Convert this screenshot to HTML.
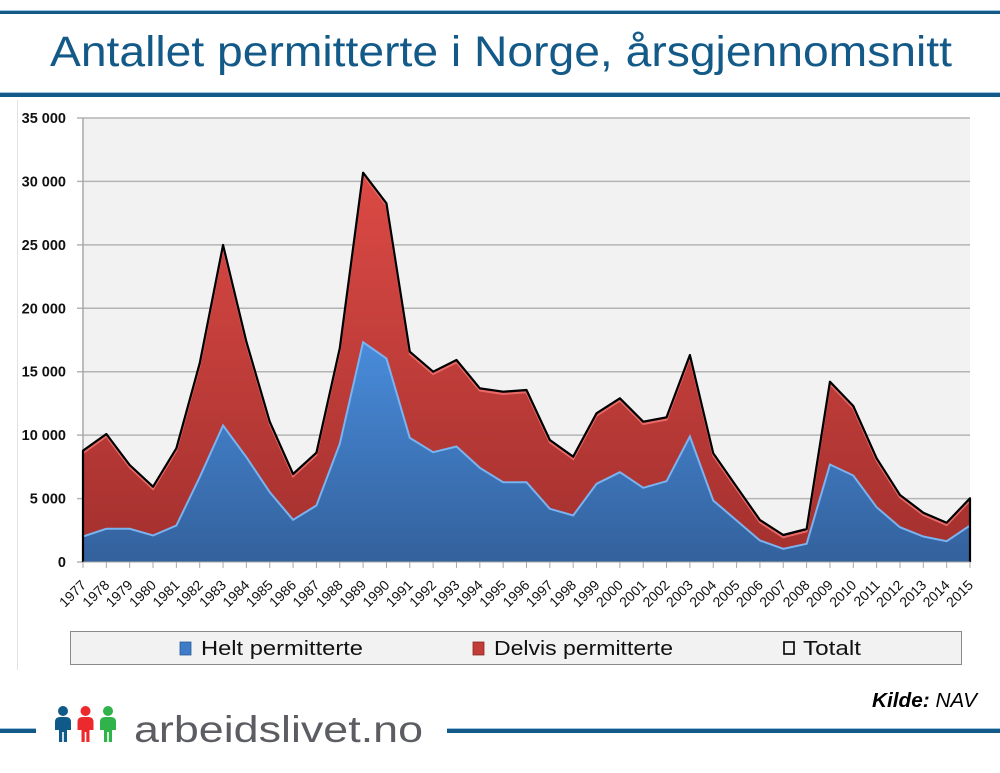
<!DOCTYPE html>
<html><head><meta charset="utf-8"><style>
html,body{margin:0;padding:0;background:#fff;}
svg{display:block;}
</style></head><body>
<svg width="1000" height="773" viewBox="0 0 1000 773" xmlns="http://www.w3.org/2000/svg">
<defs>
<linearGradient id="gb" gradientUnits="userSpaceOnUse" x1="0" y1="330" x2="0" y2="562">
<stop offset="0" stop-color="#4a8ede"/><stop offset="1" stop-color="#33619c"/>
</linearGradient>
<linearGradient id="gr" gradientUnits="userSpaceOnUse" x1="0" y1="170" x2="0" y2="562">
<stop offset="0" stop-color="#dc4a45"/><stop offset="1" stop-color="#a3302e"/>
</linearGradient>
</defs>
<!-- header lines -->
<rect x="0" y="10" width="1000" height="1" fill="#9fc4de"/>
<rect x="0" y="11" width="1000" height="3" fill="#135a89"/>
<rect x="0" y="92" width="1000" height="1" fill="#9fc4de"/>
<rect x="0" y="93" width="1000" height="4" fill="#135a89"/>
<text x="50" y="66" font-family="Liberation Sans, sans-serif" font-size="43" fill="#135a89" textLength="902" lengthAdjust="spacingAndGlyphs">Antallet permitterte i Norge, årsgjennomsnitt</text>
<!-- faint left line -->
<rect x="17" y="100" width="1" height="570" fill="#e2e2e2"/>
<!-- plot bg -->
<rect x="83" y="118" width="887" height="444" fill="#f2f2f2"/>
<g stroke="#b4b4b4" stroke-width="1.5">
<line x1="77" y1="118" x2="970" y2="118"/>
<line x1="77" y1="181.4" x2="970" y2="181.4"/>
<line x1="77" y1="244.9" x2="970" y2="244.9"/>
<line x1="77" y1="308.3" x2="970" y2="308.3"/>
<line x1="77" y1="371.7" x2="970" y2="371.7"/>
<line x1="77" y1="435.1" x2="970" y2="435.1"/>
<line x1="77" y1="498.6" x2="970" y2="498.6"/>
<line x1="77" y1="562" x2="83" y2="562"/>
</g>
<line x1="83" y1="118" x2="83" y2="562" stroke="#a8a8a8" stroke-width="1.5"/>
<!-- y labels -->
<g font-family="Liberation Sans, sans-serif" font-size="14.5" font-weight="bold" fill="#111" text-anchor="end">
<text x="66" y="123">35 000</text>
<text x="66" y="186.4">30 000</text>
<text x="66" y="249.9">25 000</text>
<text x="66" y="313.3">20 000</text>
<text x="66" y="376.7">15 000</text>
<text x="66" y="440.1">10 000</text>
<text x="66" y="503.6">5 000</text>
<text x="66" y="567">0</text>
</g>
<!-- red area (total) -->
<polygon fill="url(#gr)" points="83,562 83,450.7 106.34,434 129.68,465 153.03,486.7 176.37,448.3 199.71,363.3 223.05,245 246.39,341.7 269.74,421.7 293.08,474 316.42,452.7 339.76,348.3 363.1,172.7 386.45,203.3 409.79,351.7 433.13,371.7 456.47,360 479.82,388.3 503.16,391.7 526.5,390 549.84,440 573.18,456.7 596.53,413.3 619.87,398.3 643.21,421.7 666.55,417.3 689.89,355 713.24,453.3 736.58,486.7 759.92,520 783.26,535 806.61,529 829.95,381.7 853.29,406 876.63,458.3 899.97,495 923.32,512.7 946.66,522.7 970,498.3 970,562"/>
<polyline fill="none" stroke="#e86a66" stroke-width="2" points="83,453 106.34,436.3 129.68,467.3 153.03,489 176.37,450.6 199.71,365.6 223.05,247.3 246.39,344 269.74,424 293.08,476.3 316.42,455 339.76,350.6 363.1,175 386.45,205.6 409.79,354 433.13,374 456.47,362.3 479.82,390.6 503.16,394 526.5,392.3 549.84,442.3 573.18,459 596.53,415.6 619.87,400.6 643.21,424 666.55,419.6 689.89,357.3 713.24,455.6 736.58,489 759.92,522.3 783.26,537.3 806.61,531.3 829.95,384 853.29,408.3 876.63,460.6 899.97,497.3 923.32,515 946.66,525 970,500.6"/>
<!-- blue area -->
<polygon fill="url(#gb)" points="83,562 83,536 106.34,528.3 129.68,528.3 153.03,535 176.37,525 199.71,476.7 223.05,425 246.39,456.7 269.74,491.7 293.08,519.3 316.42,505 339.76,443.3 363.1,341.7 386.45,358 409.79,437.3 433.13,451.7 456.47,446 479.82,467.3 503.16,481.7 526.5,481.7 549.84,508.3 573.18,515 596.53,483.3 619.87,471.7 643.21,487.3 666.55,480.7 689.89,436 713.24,500 736.58,520 759.92,540 783.26,548.3 806.61,543.3 829.95,464 853.29,475 876.63,506.7 899.97,526.7 923.32,536 946.66,540.7 970,525 970,562"/>
<polyline fill="none" stroke="#79b3f0" stroke-width="2" points="83,536.5 106.34,528.8 129.68,528.8 153.03,535.5 176.37,525.5 199.71,477.2 223.05,425.5 246.39,457.2 269.74,492.2 293.08,519.8 316.42,505.5 339.76,443.8 363.1,342.2 386.45,358.5 409.79,437.8 433.13,452.2 456.47,446.5 479.82,467.8 503.16,482.2 526.5,482.2 549.84,508.8 573.18,515.5 596.53,483.8 619.87,472.2 643.21,487.8 666.55,481.2 689.89,436.5 713.24,500.5 736.58,520.5 759.92,540.5 783.26,548.8 806.61,543.8 829.95,464.5 853.29,475.5 876.63,507.2 899.97,527.2 923.32,536.5 946.66,541.2 970,525.5"/>
<!-- total line -->
<polyline fill="none" stroke="#000" stroke-width="2.2" stroke-linejoin="round" points="83,562 83,450.7 106.34,434 129.68,465 153.03,486.7 176.37,448.3 199.71,363.3 223.05,245 246.39,341.7 269.74,421.7 293.08,474 316.42,452.7 339.76,348.3 363.1,172.7 386.45,203.3 409.79,351.7 433.13,371.7 456.47,360 479.82,388.3 503.16,391.7 526.5,390 549.84,440 573.18,456.7 596.53,413.3 619.87,398.3 643.21,421.7 666.55,417.3 689.89,355 713.24,453.3 736.58,486.7 759.92,520 783.26,535 806.61,529 829.95,381.7 853.29,406 876.63,458.3 899.97,495 923.32,512.7 946.66,522.7 970,498.3 970,562"/>
<!-- x axis -->
<line x1="83" y1="562" x2="970" y2="562" stroke="#a8a8a8" stroke-width="1"/>
<g stroke="#a8a8a8" stroke-width="1">
<line x1="83" y1="562" x2="83" y2="568"/><line x1="106.34" y1="562" x2="106.34" y2="568"/><line x1="129.68" y1="562" x2="129.68" y2="568"/><line x1="153.03" y1="562" x2="153.03" y2="568"/><line x1="176.37" y1="562" x2="176.37" y2="568"/><line x1="199.71" y1="562" x2="199.71" y2="568"/><line x1="223.05" y1="562" x2="223.05" y2="568"/><line x1="246.39" y1="562" x2="246.39" y2="568"/><line x1="269.74" y1="562" x2="269.74" y2="568"/><line x1="293.08" y1="562" x2="293.08" y2="568"/><line x1="316.42" y1="562" x2="316.42" y2="568"/><line x1="339.76" y1="562" x2="339.76" y2="568"/><line x1="363.1" y1="562" x2="363.1" y2="568"/><line x1="386.45" y1="562" x2="386.45" y2="568"/><line x1="409.79" y1="562" x2="409.79" y2="568"/><line x1="433.13" y1="562" x2="433.13" y2="568"/><line x1="456.47" y1="562" x2="456.47" y2="568"/><line x1="479.82" y1="562" x2="479.82" y2="568"/><line x1="503.16" y1="562" x2="503.16" y2="568"/><line x1="526.5" y1="562" x2="526.5" y2="568"/><line x1="549.84" y1="562" x2="549.84" y2="568"/><line x1="573.18" y1="562" x2="573.18" y2="568"/><line x1="596.53" y1="562" x2="596.53" y2="568"/><line x1="619.87" y1="562" x2="619.87" y2="568"/><line x1="643.21" y1="562" x2="643.21" y2="568"/><line x1="666.55" y1="562" x2="666.55" y2="568"/><line x1="689.89" y1="562" x2="689.89" y2="568"/><line x1="713.24" y1="562" x2="713.24" y2="568"/><line x1="736.58" y1="562" x2="736.58" y2="568"/><line x1="759.92" y1="562" x2="759.92" y2="568"/><line x1="783.26" y1="562" x2="783.26" y2="568"/><line x1="806.61" y1="562" x2="806.61" y2="568"/><line x1="829.95" y1="562" x2="829.95" y2="568"/><line x1="853.29" y1="562" x2="853.29" y2="568"/><line x1="876.63" y1="562" x2="876.63" y2="568"/><line x1="899.97" y1="562" x2="899.97" y2="568"/><line x1="923.32" y1="562" x2="923.32" y2="568"/><line x1="946.66" y1="562" x2="946.66" y2="568"/><line x1="970" y1="562" x2="970" y2="568"/>
</g>
<g font-family="Liberation Sans, sans-serif" font-size="14" fill="#111" text-anchor="end">
<text transform="translate(87,586) rotate(-45)">1977</text>
<text transform="translate(110.34,586) rotate(-45)">1978</text>
<text transform="translate(133.68,586) rotate(-45)">1979</text>
<text transform="translate(157.03,586) rotate(-45)">1980</text>
<text transform="translate(180.37,586) rotate(-45)">1981</text>
<text transform="translate(203.71,586) rotate(-45)">1982</text>
<text transform="translate(227.05,586) rotate(-45)">1983</text>
<text transform="translate(250.39,586) rotate(-45)">1984</text>
<text transform="translate(273.74,586) rotate(-45)">1985</text>
<text transform="translate(297.08,586) rotate(-45)">1986</text>
<text transform="translate(320.42,586) rotate(-45)">1987</text>
<text transform="translate(343.76,586) rotate(-45)">1988</text>
<text transform="translate(367.1,586) rotate(-45)">1989</text>
<text transform="translate(390.45,586) rotate(-45)">1990</text>
<text transform="translate(413.79,586) rotate(-45)">1991</text>
<text transform="translate(437.13,586) rotate(-45)">1992</text>
<text transform="translate(460.47,586) rotate(-45)">1993</text>
<text transform="translate(483.82,586) rotate(-45)">1994</text>
<text transform="translate(507.16,586) rotate(-45)">1995</text>
<text transform="translate(530.5,586) rotate(-45)">1996</text>
<text transform="translate(553.84,586) rotate(-45)">1997</text>
<text transform="translate(577.18,586) rotate(-45)">1998</text>
<text transform="translate(600.53,586) rotate(-45)">1999</text>
<text transform="translate(623.87,586) rotate(-45)">2000</text>
<text transform="translate(647.21,586) rotate(-45)">2001</text>
<text transform="translate(670.55,586) rotate(-45)">2002</text>
<text transform="translate(693.89,586) rotate(-45)">2003</text>
<text transform="translate(717.24,586) rotate(-45)">2004</text>
<text transform="translate(740.58,586) rotate(-45)">2005</text>
<text transform="translate(763.92,586) rotate(-45)">2006</text>
<text transform="translate(787.26,586) rotate(-45)">2007</text>
<text transform="translate(810.61,586) rotate(-45)">2008</text>
<text transform="translate(833.95,586) rotate(-45)">2009</text>
<text transform="translate(857.29,586) rotate(-45)">2010</text>
<text transform="translate(880.63,586) rotate(-45)">2011</text>
<text transform="translate(903.97,586) rotate(-45)">2012</text>
<text transform="translate(927.32,586) rotate(-45)">2013</text>
<text transform="translate(950.66,586) rotate(-45)">2014</text>
<text transform="translate(974,586) rotate(-45)">2015</text>
</g>
<!-- legend -->
<rect x="70.5" y="631.5" width="891" height="33" fill="#f2f2f2" stroke="#8a8a8a" stroke-width="1"/>
<rect x="180" y="642" width="11" height="13" fill="#3f7cc8" stroke="#2a5a96" stroke-width="0.8"/>
<text x="201" y="655" font-family="Liberation Sans, sans-serif" font-size="20" fill="#111" textLength="162" lengthAdjust="spacingAndGlyphs">Helt permitterte</text>
<rect x="473" y="642" width="11" height="13" fill="#c23c38" stroke="#8c2826" stroke-width="0.8"/>
<text x="494" y="655" font-family="Liberation Sans, sans-serif" font-size="20" fill="#111" textLength="179" lengthAdjust="spacingAndGlyphs">Delvis permitterte</text>
<rect x="784" y="642" width="10" height="12" fill="none" stroke="#000" stroke-width="1.6"/>
<text x="803" y="655" font-family="Liberation Sans, sans-serif" font-size="20" fill="#111" textLength="58" lengthAdjust="spacingAndGlyphs">Totalt</text>
<!-- source -->
<text x="872" y="707" font-family="Liberation Sans, sans-serif" font-size="20" fill="#000" textLength="105" lengthAdjust="spacingAndGlyphs"><tspan font-weight="bold" font-style="italic">Kilde:</tspan><tspan font-style="italic"> NAV</tspan></text>
<!-- footer line -->
<rect x="0" y="728" width="36" height="1" fill="#9fc4de"/>
<rect x="0" y="729" width="36" height="4" fill="#135a89"/>
<rect x="447" y="728" width="553" height="1" fill="#9fc4de"/>
<rect x="447" y="729" width="553" height="4" fill="#135a89"/>
<!-- logo people -->
<g>
<circle cx="63" cy="711" r="5" fill="#0f5a88"/>
<path d="M55,722 Q55,717 60,717 L66,717 Q71,717 71,722 L71,730 L67,730 L67,742 L63.8,742 L63.8,732 L62.2,732 L62.2,742 L59,742 L59,730 L55,730 Z" fill="#0f5a88"/>
<circle cx="85.5" cy="711" r="5" fill="#ec2a2e"/>
<path d="M77.5,722 Q77.5,717 82.5,717 L88.5,717 Q93.5,717 93.5,722 L93.5,730 L89.5,730 L89.5,742 L86.3,742 L86.3,732 L84.7,732 L84.7,742 L81.5,742 L81.5,730 L77.5,730 Z" fill="#ec2a2e"/>
<circle cx="108" cy="711" r="5" fill="#2fb34a"/>
<path d="M100,722 Q100,717 105,717 L111,717 Q116,717 116,722 L116,730 L112,730 L112,742 L108.8,742 L108.8,732 L107.2,732 L107.2,742 L104,742 L104,730 L100,730 Z" fill="#2fb34a"/>
</g>
<text x="134" y="742" font-family="Liberation Sans, sans-serif" font-size="37" fill="#5c5d63" textLength="289" lengthAdjust="spacingAndGlyphs">arbeidslivet.no</text>
</svg>
</body></html>
